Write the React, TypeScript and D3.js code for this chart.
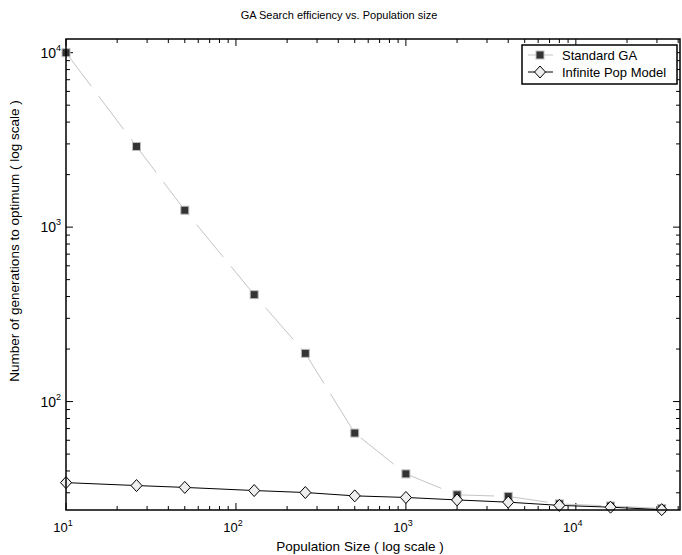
import React, { useEffect, useRef } from 'react';
import * as d3 from 'd3';

// population sizes (x) and generations to optimum (y)
const popSizes = [10, 26, 50, 128, 256, 500, 1000, 2000, 4000, 8000, 16000, 32000];
const standardGA = [10000, 2900, 1250, 410, 189, 66, 38.5, 29.2, 28.6, 25.9, 25.2, 24.4];
const infinitePop = [34.3, 33.0, 32.2, 30.9, 30.1, 28.8, 28.2, 27.3, 26.5, 25.4, 24.8, 24.0];

const xMajor = [10, 100, 1000, 10000];
const yMajor = [100, 1000, 10000];
const xDomain = [10, 41000];
const yDomain = [23.9, 11980];

const seriesNames = ['Standard GA', 'Infinite Pop Model'];
const chartTitle = 'GA Search efficiency vs. Population size';
const xTitle = 'Population Size ( log scale )';
const yTitle = 'Number of generations to optimum ( log scale )';

const W = 682;
const H = 555;
const FONT = 'Liberation Sans, Arial, sans-serif';

// minor ticks between decades (2..9 x 10^k) inside a domain
const minorTicks = (domain) => {
  const out = [];
  for (let k = Math.floor(Math.log10(domain[0])); k <= Math.ceil(Math.log10(domain[1])); k++) {
    for (let m = 2; m <= 9; m++) {
      const v = m * Math.pow(10, k);
      if (v >= domain[0] && v <= domain[1]) out.push(v);
    }
  }
  return out;
};

const App = () => {
  const svgRef = useRef(null);

  useEffect(() => {
    const margin = { top: 39, right: 2, bottom: 45, left: 66 };
    const innerW = W - margin.left - margin.right;
    const innerH = H - margin.top - margin.bottom;

    const svg = d3.select(svgRef.current);
    svg.selectAll('*').remove();

    const g = svg.append('g').attr('transform', `translate(${margin.left},${margin.top})`);

    const x = d3.scaleLog().domain(xDomain).range([0, innerW]);
    const y = d3.scaleLog().domain(yDomain).range([innerH, 0]);

    // title
    svg.append('text')
      .attr('x', 339).attr('y', 19)
      .attr('text-anchor', 'middle')
      .style('font-family', FONT).style('font-size', '11px')
      .text(chartTitle);

    // ticks (all inward)
    const xMinor = minorTicks(xDomain);
    const yMinor = minorTicks(yDomain);
    const tickG = g.append('g').attr('stroke', '#000').attr('stroke-width', 1);

    xMajor.forEach(v => {
      tickG.append('line').attr('x1', x(v)).attr('x2', x(v)).attr('y1', innerH).attr('y2', innerH - 7);
      tickG.append('line').attr('x1', x(v)).attr('x2', x(v)).attr('y1', 0).attr('y2', 7);
    });
    xMinor.forEach(v => {
      tickG.append('line').attr('x1', x(v)).attr('x2', x(v)).attr('y1', innerH).attr('y2', innerH - 4);
      tickG.append('line').attr('x1', x(v)).attr('x2', x(v)).attr('y1', 0).attr('y2', 4);
    });
    yMajor.forEach(v => {
      tickG.append('line').attr('y1', y(v)).attr('y2', y(v)).attr('x1', 0).attr('x2', 7);
      tickG.append('line').attr('y1', y(v)).attr('y2', y(v)).attr('x1', innerW).attr('x2', innerW - 7);
    });
    yMinor.forEach(v => {
      tickG.append('line').attr('y1', y(v)).attr('y2', y(v)).attr('x1', 0).attr('x2', 4);
      tickG.append('line').attr('y1', y(v)).attr('y2', y(v)).attr('x1', innerW).attr('x2', innerW - 4);
    });

    // tick labels with superscript exponents
    xMajor.forEach(v => {
      const t = g.append('text')
        .attr('x', x(v) - 3).attr('y', innerH + 22)
        .attr('text-anchor', 'middle')
        .style('font-family', FONT).style('font-size', '13px');
      t.append('tspan').text('10');
      t.append('tspan').attr('dy', -6).style('font-size', '9px').text(String(Math.round(Math.log10(v))));
    });
    yMajor.forEach(v => {
      const t = g.append('text')
        .attr('x', -5).attr('y', y(v) + 5)
        .attr('text-anchor', 'end')
        .style('font-family', FONT).style('font-size', '14px');
      t.append('tspan').text('10');
      t.append('tspan').attr('dy', -7).style('font-size', '9px').text(String(Math.round(Math.log10(v))));
    });

    // axis titles
    svg.append('text')
      .attr('x', 360).attr('y', 551)
      .attr('text-anchor', 'middle')
      .style('font-family', FONT).style('font-size', '13.5px')
      .text(xTitle);
    svg.append('text')
      .attr('transform', 'translate(19,241) rotate(-90)')
      .attr('text-anchor', 'middle')
      .style('font-family', FONT).style('font-size', '13.5px')
      .text(yTitle);

    const line = d3.line().x(d => x(d[0])).y(d => y(d[1]));
    const gaPts = popSizes.map((p, i) => [p, standardGA[i]]);
    const infPts = popSizes.map((p, i) => [p, infinitePop[i]]);

    // Standard GA: light grey dashed line, dark squares
    g.append('path')
      .attr('d', line(gaPts))
      .attr('fill', 'none')
      .attr('stroke', '#c4c4c4')
      .attr('stroke-width', 1)
      .attr('stroke-dasharray', '42,12');

    // Infinite pop model: black line
    g.append('path')
      .attr('d', line(infPts))
      .attr('fill', 'none')
      .attr('stroke', '#000')
      .attr('stroke-width', 1);

    const sq = 8;
    g.selectAll('rect.ga')
      .data(gaPts)
      .enter()
      .append('rect')
      .attr('class', 'ga')
      .attr('x', d => x(d[0]) - sq / 2)
      .attr('y', d => y(d[1]) - sq / 2)
      .attr('width', sq).attr('height', sq)
      .attr('fill', '#333')
      .attr('stroke', '#bdbdbd')
      .attr('stroke-width', 1);

    const diamond = (cx, cy) => `M${cx},${cy - 6}L${cx + 5.5},${cy}L${cx},${cy + 6}L${cx - 5.5},${cy}Z`;
    g.selectAll('path.inf')
      .data(infPts)
      .enter()
      .append('path')
      .attr('class', 'inf')
      .attr('d', d => diamond(x(d[0]), y(d[1])))
      .attr('fill', '#eeeeee')
      .attr('stroke', '#000')
      .attr('stroke-width', 1);

    // frame
    g.append('rect')
      .attr('x', 0).attr('y', 0)
      .attr('width', innerW).attr('height', innerH)
      .attr('fill', 'none')
      .attr('stroke', '#000')
      .attr('stroke-width', 1.5);

    // legend
    const lg = svg.append('g');
    lg.append('rect')
      .attr('x', 522).attr('y', 45)
      .attr('width', 155).attr('height', 39)
      .attr('fill', '#fff')
      .attr('stroke', '#000')
      .attr('stroke-width', 1.5);
    const rows = [55, 72];
    seriesNames.forEach((name, i) => {
      const ry = rows[i];
      lg.append('line')
        .attr('x1', 528).attr('x2', 553).attr('y1', ry).attr('y2', ry)
        .attr('stroke', i === 0 ? '#c4c4c4' : '#000').attr('stroke-width', 1);
      if (i === 0) {
        lg.append('rect')
          .attr('x', 540 - sq / 2).attr('y', ry - sq / 2)
          .attr('width', sq).attr('height', sq)
          .attr('fill', '#333').attr('stroke', '#bdbdbd');
      } else {
        lg.append('path').attr('d', diamond(540, ry))
          .attr('fill', '#eeeeee').attr('stroke', '#000');
      }
      lg.append('text')
        .attr('x', 562).attr('y', ry + 5)
        .style('font-family', FONT).style('font-size', '13px')
        .text(name);
    });
  }, []);

  return (
    <svg
      ref={svgRef}
      width={W}
      height={H}
      style={{ position: 'absolute', left: 0, top: 0, background: '#fff' }}
    />
  );
};

export default App;
